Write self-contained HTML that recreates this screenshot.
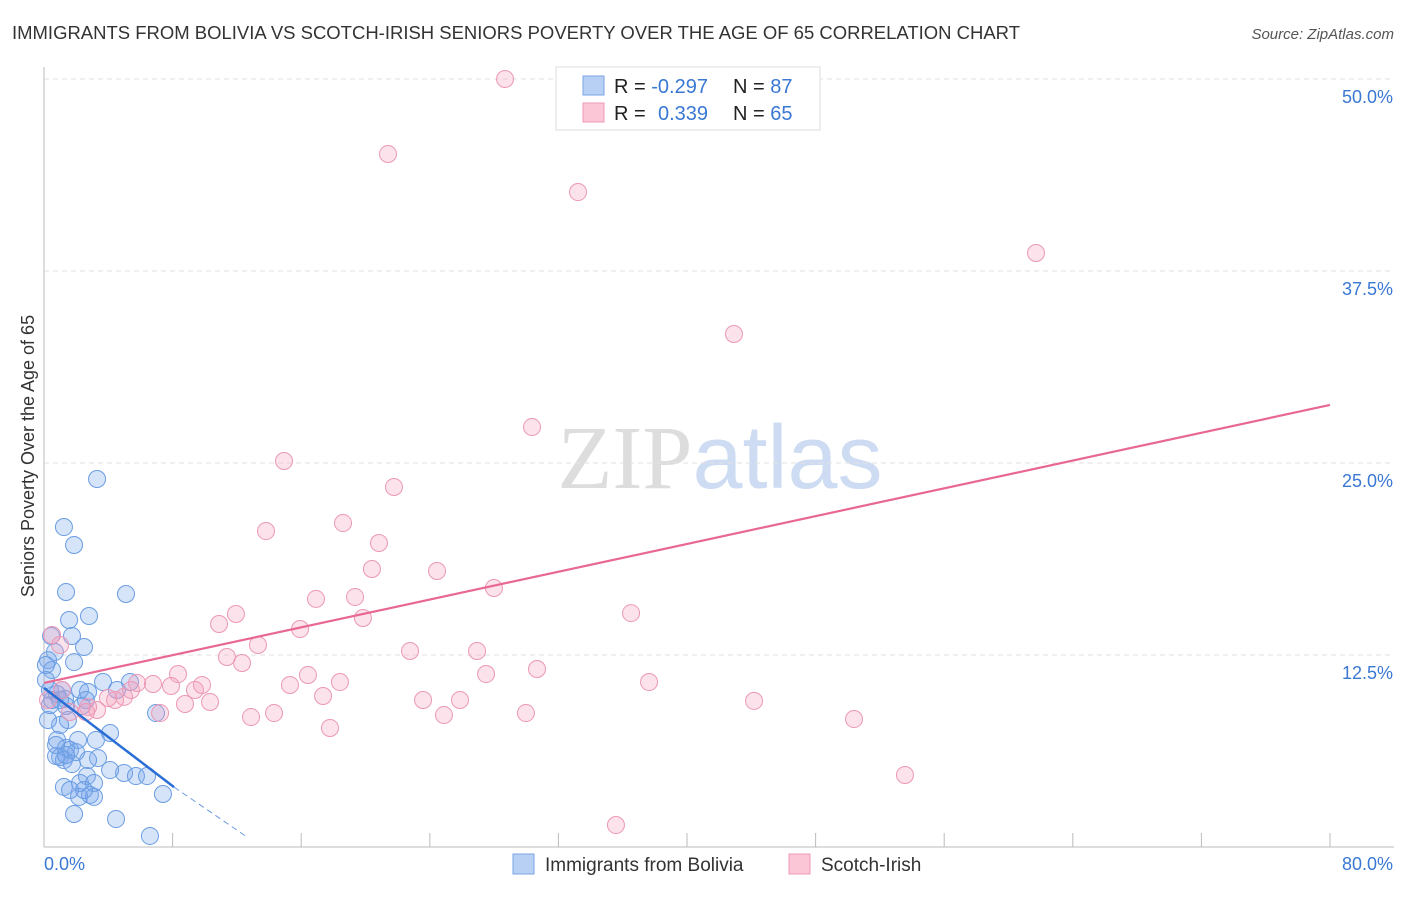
<!DOCTYPE html>
<html><head><meta charset="utf-8"><style>
body{margin:0;background:#fff;font-family:"Liberation Sans",sans-serif}
svg text{font-family:"Liberation Sans",sans-serif}
</style></head><body>
<svg id="chart" width="1406" height="892" xmlns="http://www.w3.org/2000/svg">
<text x="12" y="39" font-size="18" fill="#333" textLength="1008" lengthAdjust="spacingAndGlyphs">IMMIGRANTS FROM BOLIVIA VS SCOTCH-IRISH SENIORS POVERTY OVER THE AGE OF 65 CORRELATION CHART</text>
<text x="1394" y="39" font-size="15" fill="#555" text-anchor="end" font-style="italic">Source: ZipAtlas.com</text>
<text transform="translate(34,456) rotate(-90)" font-size="18" fill="#333" text-anchor="middle">Seniors Poverty Over the Age of 65</text>
<text x="720" y="488" font-size="90" text-anchor="middle"><tspan fill="#ddd" font-family="Liberation Serif">ZIP</tspan><tspan fill="#cddcf2">atlas</tspan></text>
<g id="grid"></g><g id="axes"></g><g id="pts"></g><g id="lines"></g>
<g>
<rect x="556" y="67" width="264" height="63" fill="#fff" stroke="#ddd"/>
<rect x="583" y="76" width="21" height="19" fill="#b8d0f4" stroke="#7aa5e6"/>
<rect x="583" y="103" width="21" height="19" fill="#fbc6d6" stroke="#ee9ab5"/>
<text x="614" y="93" font-size="20" fill="#222">R = <tspan fill="#3a78d4">-0.297</tspan></text>
<text x="733" y="93" font-size="20" fill="#222">N = <tspan fill="#3a78d4">87</tspan></text>
<text x="614" y="120" font-size="20" fill="#222">R = <tspan fill="#3a78d4" x="658">0.339</tspan></text>
<text x="733" y="120" font-size="20" fill="#222">N = <tspan fill="#3a78d4">65</tspan></text>
</g>
<g>
<rect x="513" y="854" width="21" height="20" fill="#b8d0f4" stroke="#7aa5e6"/>
<text x="545" y="871" font-size="19" fill="#333">Immigrants from Bolivia</text>
<rect x="789" y="854" width="21" height="20" fill="#fbc6d6" stroke="#ee9ab5"/>
<text x="821" y="871" font-size="19" fill="#333">Scotch-Irish</text>
</g>
</svg>
<script>
const yTicks=[12.5,25,37.5,50];
const yTickLabels=["12.5%","25.0%","37.5%","50.0%"];
const xTickLabels=["0.0%","80.0%"];
const blueX=[3.30,1.24,1.87,1.37,5.10,2.80,1.56,0.44,1.74,2.49,0.68,0.25,1.87,0.50,0.12,0.37,0.81,1.31,2.24,2.74,3.67,4.54,5.35,1.37,2.36,6.97,1.49,1.00,4.11,3.23,0.81,1.37,1.62,1.99,1.00,1.24,3.36,1.74,0.75,4.98,5.72,6.41,2.67,2.24,3.11,1.24,2.18,2.86,3.11,7.40,1.87,4.48,6.59,0.25,0.37,0.50,0.12,1.00,1.12,0.75,2.61,4.11,2.49,1.62,2.12,1.37,2.74];
const blueY=[23.96,20.83,19.66,16.60,16.47,15.04,14.78,13.74,13.74,13.02,12.70,12.17,12.04,11.52,10.87,10.22,9.96,9.64,10.22,10.09,10.74,10.22,10.74,9.18,9.18,8.72,8.27,7.94,7.42,6.97,6.97,6.45,6.32,6.18,5.86,5.66,5.79,5.40,5.92,4.82,4.62,4.62,4.62,4.17,4.17,3.91,3.26,3.39,3.26,3.45,2.15,1.82,0.72,8.27,9.24,9.57,11.85,9.57,10.22,6.64,9.57,5.01,3.71,3.71,6.97,5.99,5.66];
const pinkX=[28.68,21.40,33.22,61.71,42.92,30.36,14.93,21.77,18.60,13.81,20.84,20.40,24.45,27.99,19.35,16.92,11.94,36.52,19.84,10.89,15.93,13.31,22.77,26.94,11.38,12.32,30.67,8.34,27.50,16.42,15.30,18.41,37.64,5.79,6.78,7.90,9.39,9.83,4.98,17.36,23.58,10.33,8.77,4.42,3.30,2.74,44.17,25.88,7.22,14.31,29.98,24.88,12.88,50.39,17.79,53.56,35.58,0.50,1.00,0.25,1.12,1.62,2.61,3.98,5.41];
const pinkY=[50.0,45.12,42.64,38.67,33.40,27.34,25.13,23.44,21.09,20.57,19.79,18.10,17.97,16.86,16.28,16.15,15.17,15.23,14.91,14.52,14.19,13.15,12.76,12.76,12.37,11.98,11.59,11.26,11.26,11.20,10.55,10.74,10.74,10.68,10.61,10.48,10.22,10.55,9.77,9.83,9.57,9.44,9.31,9.57,8.92,9.11,9.51,9.57,8.72,8.72,8.72,8.59,8.46,8.33,7.75,4.69,1.43,13.80,13.15,9.57,10.22,8.79,8.79,9.70,10.22];
const blueTrend=[[0,10.35],[8.09,3.9],[12.7,0.6]];
const pinkTrend=[[0,10.68],[80,28.78]];
const NS="http://www.w3.org/2000/svg";
const sx=v=>44+v*16.075, sy=v=>847-v*15.36;
function mk(tag,attrs,parent){const e=document.createElementNS(NS,tag);for(const k in attrs)e.setAttribute(k,attrs[k]);parent.appendChild(e);return e;}
const grid=document.getElementById('grid'),axes=document.getElementById('axes'),pts=document.getElementById('pts'),lines=document.getElementById('lines');
yTicks.forEach((t,i)=>{
 const l=mk('line',{x1:44,x2:1394,y1:sy(t),y2:sy(t),stroke:'#e2e2e2','stroke-dasharray':'5,4'},grid);
 
 
 const tx=mk('text',{x:1393,y:sy(t)+24,'font-size':18,fill:'#3a78d4','text-anchor':'end'},axes);tx.textContent=yTickLabels[i];
 
 
});
mk('line',{x1:44,x2:44,y1:67,y2:847,stroke:'#bbb'},axes);
mk('line',{x1:44,x2:1394,y1:847,y2:847,stroke:'#bbb'},axes);
for(let i=1;i<=10;i++){const t=mk('line',{x1:sx(i*8),x2:sx(i*8),y1:833,y2:847,stroke:'#bbb'},axes);}
const xl0=mk('text',{x:44,y:870,'font-size':18,fill:'#3a78d4'},axes);xl0.textContent=xTickLabels[0];


const xl1=mk('text',{x:1393,y:870,'font-size':18,fill:'#3a78d4','text-anchor':'end'},axes);xl1.textContent=xTickLabels[1];


blueX.forEach((x,i)=>{const c=mk('circle',{cx:sx(x),cy:sy(blueY[i]),r:8.5,fill:'rgba(120,165,235,0.3)',stroke:'#6a9de2','stroke-width':1},pts);
 
 });
pinkX.forEach((x,i)=>{const c=mk('circle',{cx:sx(x),cy:sy(pinkY[i]),r:8.5,fill:'rgba(245,160,190,0.3)',stroke:'#ec98b5','stroke-width':1},pts);
 
 });
const b1=mk('line',{x1:sx(blueTrend[0][0]),y1:sy(blueTrend[0][1]),x2:sx(blueTrend[1][0]),y2:sy(blueTrend[1][1]),stroke:'#2a6fd6','stroke-width':2.5},lines);


const b2=mk('line',{x1:sx(blueTrend[1][0]),y1:sy(blueTrend[1][1]),x2:sx(blueTrend[2][0]),y2:sy(blueTrend[2][1]),stroke:'#6b9be0','stroke-width':1,'stroke-dasharray':'6,4'},lines);


const p1=mk('line',{x1:sx(pinkTrend[0][0]),y1:sy(pinkTrend[0][1]),x2:sx(pinkTrend[1][0]),y2:sy(pinkTrend[1][1]),stroke:'#e86892','stroke-width':2.2},lines);


</script>
</body></html>
